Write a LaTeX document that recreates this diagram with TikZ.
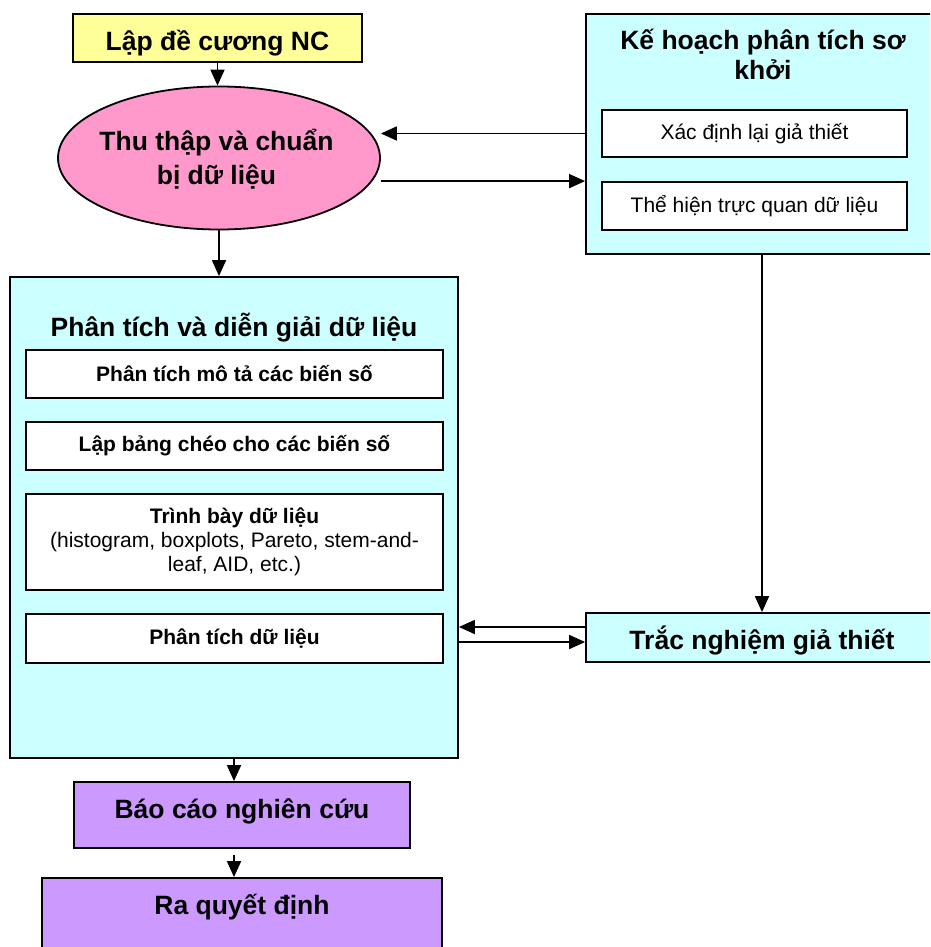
\documentclass[tikz,border=0pt]{standalone}
\usepackage{fontspec}
\setmainfont{Liberation Sans}
\usetikzlibrary{arrows.meta,shapes.geometric}
\definecolor{cyel}{HTML}{FFFF99}
\definecolor{cpink}{HTML}{FF99CC}
\definecolor{ccyan}{HTML}{CCFFFF}
\definecolor{cpurp}{HTML}{CC99FF}
\tikzset{
  box/.style={draw, line width=1.8pt, inner sep=0pt},
  tbig/.style={font=\fontsize{26.5}{32}\selectfont\bfseries, inner sep=0pt},
  tsmall/.style={font=\fontsize{21}{24}\selectfont},
  tsmallb/.style={font=\fontsize{21}{24}\selectfont\bfseries},
  arr/.style={line width=1.8pt, -{Triangle[length=16pt,width=14pt]}},
}
\begin{document}
\begin{tikzpicture}[x=1pt,y=-1pt]
\clip (0,0) rectangle (930,947);
\fill[white] (0,0) rectangle (930,947);

% top
\node[box, fill=cyel, minimum width=289pt, minimum height=48pt] (yel) at (217.5,38) {};
\node[tbig, anchor=base] (yelt) at (217.5,51) {Lập đề cương NC};

\node[ellipse, draw, line width=1.8pt, fill=cpink, minimum width=322pt, minimum height=143pt, inner sep=0pt] (ell) at (219,158) {};
\node[tbig, font=\fontsize{26.5}{34}\selectfont\bfseries, align=center, anchor=base] (ellt) at (216.5,184) {Thu thập và chuẩn\\bị dữ liệu};

% right box
\node[box, fill=ccyan, minimum width=352pt, minimum height=240pt] (rbox) at (762,134) {};
\node[tbig, font=\fontsize{26.5}{30}\selectfont\bfseries, align=center, anchor=base] (rboxt) at (763,80) {Kế hoạch phân tích sơ\\khởi};
\node[box, fill=white, tsmall, minimum width=305pt, minimum height=47pt] (r1) at (754.5,133.5) {Xác định lại giả thiết};
\node[box, fill=white, tsmall, minimum width=305pt, minimum height=48pt] (r2) at (754.5,206) {Thể hiện trực quan dữ liệu};

% big box
\node[box, fill=ccyan, minimum width=448pt, minimum height=481pt] (big) at (234,517.5) {};
\node[tbig, anchor=base] (bigt) at (234,336) {Phân tích và diễn giải dữ liệu};
\node[box, fill=white, tsmallb, minimum width=417pt, minimum height=48pt] (ba) at (234.5,374) {Phân tích mô tả các biến số};
\node[box, fill=white, tsmallb, minimum width=417pt, minimum height=48pt] (bb) at (234.5,446) {Lập bảng chéo cho các biến số};
\node[box, fill=white, tsmall, align=center, minimum width=417pt, minimum height=96pt] (bc) at (234.5,542) {\textbf{Trình bày dữ liệu}\\(histogram, boxplots, Pareto, stem-and-\\leaf, AID, etc.)};
\node[box, fill=white, tsmallb, minimum width=417pt, minimum height=49pt] (bd) at (234.5,638.5) {Phân tích dữ liệu};

% test box
\node[box, fill=ccyan, minimum width=352pt, minimum height=49pt] (trac) at (762,637.5) {};
\node[tbig, anchor=base] (tract) at (762,649) {Trắc nghiệm giả thiết};

% bottom
\node[box, fill=cpurp, minimum width=336pt, minimum height=66pt] (bao) at (242,815) {};
\node[tbig, anchor=base] (baot) at (242,818) {Báo cáo nghiên cứu};
\node[box, fill=cpurp, minimum width=400pt, minimum height=102pt] (ra) at (242,929) {};
\node[tbig, anchor=base] (rat) at (242,914) {Ra quyết định};

% connectors
\draw[arr] (yel.south) -- (yel.south |- ell.north);
\draw[arr] (ell.south) -- (ell.south |- big.north);
\draw[arr] (rbox.west |- r1) -- (ell.east |- r1);
\draw[arr] (ell.east |- r2.north) -- (rbox.west |- r2.north);
\draw[arr] (rbox.south) -- (trac.north);
\draw[arr] ([yshift=10.5pt]trac.west) -- ([yshift=10.5pt]trac.west -| big.east);
\draw[arr] ([yshift=-4.5pt]trac.west -| big.east) -- ([yshift=-4.5pt]trac.west);
\draw[arr] (big.south) -- (big.south |- bao.north);
\draw[arr] ([yshift=-6pt]big.south |- bao.south) -- (big.south |- ra.north);
\end{tikzpicture}
\end{document}
